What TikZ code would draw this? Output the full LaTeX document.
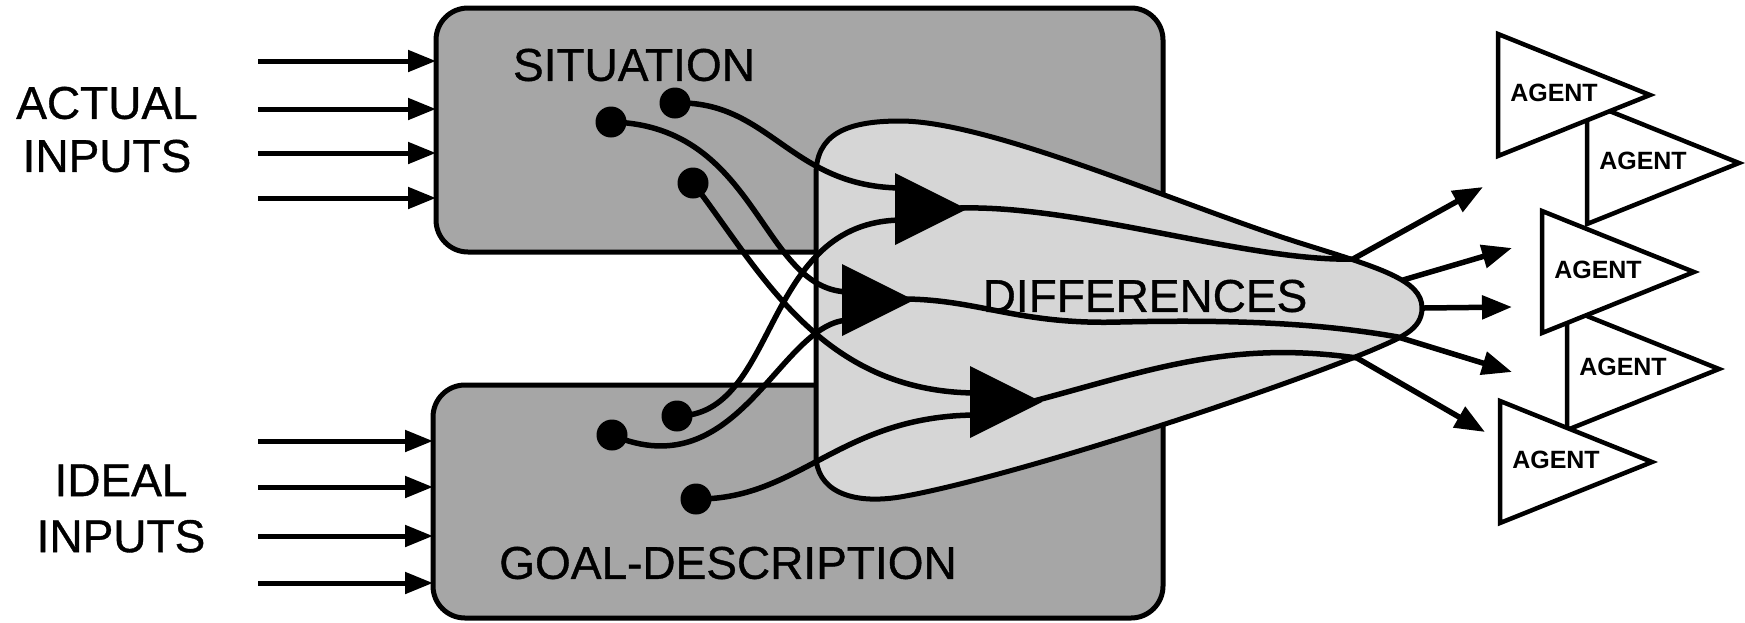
\documentclass[tikz,border=0pt]{standalone}
\usepackage{fontspec}
\setmainfont{Liberation Sans}
\newfontfamily\labelfont{Liberation Sans}[FakeBold=0.8]
\usetikzlibrary{arrows.meta}

% one agent: left x, centre y, node name
\newcommand\drawagent[3]{%
  \draw[agentshape] (#1,#2-61) -- (#1+152,#2) -- (#1,#2+61) -- cycle;
  \node[agentlabel] (#3) at (#1+56,#2-2) {AGENT};}

\begin{document}
\begin{tikzpicture}[x=1pt,y=-1pt,
  box/.style={draw=black, line width=5pt, fill=black!35, rounded corners=32pt,
    inner sep=0pt, outer sep=0pt},
  blobshape/.style={draw=black, line width=5pt, fill=black!16, line join=round},
  wire/.style={line width=5.5pt, line cap=round},
  outwire/.style={line width=5.5pt, line join=round, -{Triangle[length=30pt,width=23pt]}},
  inarrow/.style={line width=5pt, -{Triangle[length=28pt,width=21pt]}},
  inputdot/.style={circle, fill=black, minimum size=31pt, inner sep=0pt},
  maintext/.style={font=\labelfont\fontsize{46}{53}\selectfont, inner sep=0pt, align=center},
  agentlabel/.style={font=\fontsize{25}{30}\selectfont\bfseries, inner sep=0pt},
  agentshape/.style={draw=black, fill=white, line width=4.5pt, line join=miter},
]
\useasboundingbox (0,0) rectangle (1745,622);

% the two stores
\node[box, minimum width=727pt, minimum height=244pt] (sit) at (799.5,130) {};
\node[box, minimum width=730pt, minimum height=233pt] (goal) at (798,501.5) {};

% input lines
\foreach \y [count=\i] in {61,109,153,198} {
  \coordinate (ain\i) at (258,\y);
  \draw[inarrow] (ain\i) -- (ain\i -| sit.west);
}
\foreach \y [count=\i] in {441,487,536,583} {
  \coordinate (gin\i) at (258,\y);
  \draw[inarrow] (gin\i) -- (gin\i -| goal.west);
}

% the differences region
\draw[blobshape] (816,455) -- (816,175)
  .. controls (816,135) and (845,121) .. (900,121)
  .. controls (990,121) and (1180,205) .. (1300,243)
  .. controls (1380,268) and (1422,280) .. (1422,308)
  .. controls (1422,330) and (1400,338) .. (1370,351)
  .. controls (1250,400) and (1000,480) .. (900,497)
  .. controls (850,505) and (816,490) .. (816,455) -- cycle;

% comparators
\coordinate (t1) at (895,209);
\coordinate (t2) at (842,300);
\coordinate (t3) at (970,402);
\foreach \t in {t1,t2,t3}
  \fill (\t) ++(0,-36) -- ++(72,36) -- ++(-72,36) -- cycle;
\coordinate (t1a) at (903,188);  \coordinate (t1b) at (903,220);
\coordinate (t2a) at (850,292);  \coordinate (t2b) at (850,320);
\coordinate (t3a) at (978,393);  \coordinate (t3b) at (978,415);
\coordinate (t1o) at (960,208);
\coordinate (t2o) at (906,299);
\coordinate (t3o) at (1034,401);

% sensed values
\node[inputdot] (d1) at (611,122) {};
\node[inputdot] (d2) at (675,103) {};
\node[inputdot] (d3) at (693,183) {};
\node[inputdot] (d4) at (612,435) {};
\node[inputdot] (d5) at (677,416) {};
\node[inputdot] (d6) at (696,499) {};

\draw[wire] (d2.center) .. controls (770,100) and (790,188) .. (t1a);
\draw[wire] (d5.center) .. controls (780,416) and (760,220) .. (t1b);
\draw[wire] (d1.center) .. controls (760,125) and (760,292) .. (t2a);
\draw[wire] (d4.center) .. controls (740,490) and (780,320) .. (t2b);
\draw[wire] (d3.center) .. controls (760,270) and (820,393) .. (t3a);
\draw[wire] (d6.center) .. controls (800,500) and (840,415) .. (t3b);

% outputs leaving the region
\coordinate (j1) at (1353,259);
\coordinate (j2) at (1403,280);
\coordinate (j3) at (1424,308);
\coordinate (j4) at (1398,337);
\coordinate (j5) at (1357,358);
\coordinate (a1) at (1483,187);
\coordinate (a2) at (1512,248);
\coordinate (a3) at (1512,307);
\coordinate (a4) at (1512,372);
\coordinate (a5) at (1485,432);

\draw[outwire] (t1o) .. controls (1080,205) and (1250,262) .. (j1) -- (a1);
\draw[outwire] (t2o) .. controls (980,300) and (1020,325) .. (1120,322)
  .. controls (1250,319) and (1330,325) .. (j4) -- (a4);
\draw[outwire] (t3o) .. controls (1150,370) and (1230,340) .. (j5) -- (a5);
\draw[outwire] (j2) -- (a2);
\draw[outwire] (j3) -- (a3);

% labels
\node[maintext] (actual) at (107,129.5) {ACTUAL\\INPUTS};
\node[maintext, font=\labelfont\fontsize{46}{56}\selectfont] (ideal) at (121,508.5) {IDEAL\\INPUTS};
\node[maintext] (sitlabel) at (634,65) {SITUATION};
\node[maintext] (goallabel) at (728,563) {GOAL-DESCRIPTION};
\node[maintext] (difflabel) at (1145,296) {DIFFERENCES};

% agents, back ones first
\drawagent{1587}{163}{ag2}
\drawagent{1567}{369}{ag4}
\drawagent{1498}{95}{ag1}
\drawagent{1542}{272}{ag3}
\drawagent{1500}{462}{ag5}
\end{tikzpicture}
\end{document}
